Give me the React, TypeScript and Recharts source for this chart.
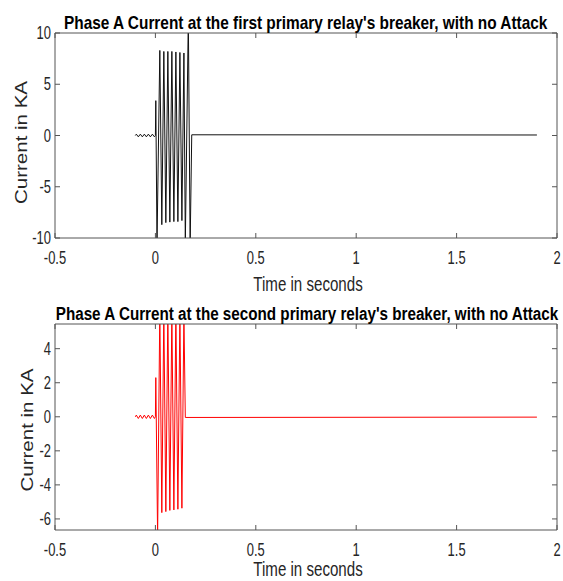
import React from "react";
import { LineChart, Line, XAxis, YAxis } from "recharts";

// shared tick values
const timeTicks = [-0.5, 0, 0.5, 1, 1.5, 2];
const relay1Ticks = [-10, -5, 0, 5, 10];
const relay2Ticks = [-6, -4, -2, 0, 2, 4];

// first primary relay, phase A current (kA)
const relay1Time = [
  -0.1, -0.095, -0.085, -0.075, -0.065, -0.055, -0.045, -0.035, -0.025, -0.015, -0.005, 0,
  0.002, 0.008, 0.022, 0.032, 0.042, 0.052, 0.062, 0.072, 0.082, 0.092, 0.102, 0.112,
  0.122, 0.132, 0.142, 0.149, 0.164, 0.173, 0.181, 1.9,
];
const relay1Current = [
  0, 0.13, -0.13, 0.13, -0.13, 0.13, -0.13, 0.13, -0.13, 0.13, -0.13, 0,
  3.4, -10.6, 8.3, -8.7, 8.2, -8.5, 8.2, -8.45, 8.2, -8.4, 8.15, -8.4,
  8.1, -8.3, 8.05, -10.4, 11.5, -10.8, 0.07, 0.05,
];

// second primary relay
const relay2Time = [
  -0.1, -0.095, -0.085, -0.075, -0.065, -0.055, -0.045, -0.035, -0.025, -0.015, -0.005, 0,
  0.002, 0.011, 0.022, 0.032, 0.042, 0.052, 0.062, 0.072, 0.082, 0.092, 0.102, 0.112,
  0.122, 0.132, 0.142, 0.149, 1.9,
];
const relay2Current = [
  0, 0.1, -0.1, 0.1, -0.1, 0.1, -0.1, 0.1, -0.1, 0.1, -0.1, 0,
  2.3, -7.0, 6.3, -5.63, 6.2, -5.57, 6.2, -5.5, 6.1, -5.47, 6.1, -5.43,
  6.0, -5.37, 6.0, -0.04, -0.02,
];

const relay1Data = relay1Time.map((t, i) => ({ t, i: relay1Current[i] }));
const relay2Data = relay2Time.map((t, i) => ({ t, i: relay2Current[i] }));

const FONT = "'Liberation Sans', Arial, Helvetica, sans-serif";
const SQUEEZE = 0.72; // the original figure is squashed horizontally
const BOX = "#555";

const XTick = (props: any) => {
  const { x, y, payload } = props;
  return (
    <g transform={`translate(${x},${y})`}>
      <text
        transform={`scale(${SQUEEZE},1)`}
        textAnchor="middle"
        dy={14}
        fontSize={18}
        fontFamily={FONT}
        fill="#262626"
      >
        {payload.value}
      </text>
    </g>
  );
};

const YTick = (props: any) => {
  const { x, y, payload } = props;
  return (
    <g transform={`translate(${x},${y})`}>
      <text
        transform={`scale(${SQUEEZE},1)`}
        textAnchor="end"
        dy={6}
        fontSize={18}
        fontFamily={FONT}
        fill="#262626"
      >
        {payload.value}
      </text>
    </g>
  );
};

const NoTick = () => <g />;

interface PanelProps {
  data: { t: number; i: number }[];
  yDomain: [number, number];
  yTicks: number[];
  color: string;
  top: number;
  height: number;
  marginTop: number;
}

const Panel: React.FC<PanelProps> = ({ data, yDomain, yTicks, color, top, height, marginTop }) => (
  <div style={{ position: "absolute", left: 0, top, width: 563, height }}>
    <LineChart
      width={563}
      height={height}
      data={data}
      margin={{ top: marginTop - 1, right: 5, left: 0, bottom: 0 }}
    >
      <XAxis
        dataKey="t"
        type="number"
        domain={[-0.5, 2]}
        ticks={timeTicks}
        interval={0}
        allowDataOverflow
        height={30}
        tickSize={-5}
        tickMargin={17}
        stroke={BOX}
        tick={(p: any) => <XTick {...p} />}
      />
      {/* mirrored axes close the box, ticks pointing inwards like the original */}
      <XAxis
        xAxisId="top"
        dataKey="t"
        orientation="top"
        type="number"
        domain={[-0.5, 2]}
        ticks={timeTicks}
        interval={0}
        allowDataOverflow
        height={1}
        tickSize={-5}
        stroke={BOX}
        tick={NoTick}
      />
      <YAxis
        type="number"
        domain={yDomain}
        ticks={yTicks}
        interval={0}
        allowDataOverflow
        width={55}
        tickSize={-5}
        tickMargin={9}
        stroke={BOX}
        tick={(p: any) => <YTick {...p} />}
      />
      <YAxis
        yAxisId="right"
        orientation="right"
        type="number"
        domain={yDomain}
        ticks={yTicks}
        interval={0}
        allowDataOverflow
        width={1}
        tickSize={-5}
        stroke={BOX}
        tick={NoTick}
      />
      <Line
        type="linear"
        dataKey="i"
        stroke={color}
        strokeWidth={1}
        dot={false}
        isAnimationActive={false}
      />
    </LineChart>
  </div>
);

export default function App() {
  return (
    <div
      style={{
        position: "absolute",
        left: 0,
        top: 0,
        width: 563,
        height: 581,
        background: "#fff",
        overflow: "hidden",
      }}
    >
      <Panel
        data={relay1Data}
        yDomain={[-10, 10]}
        yTicks={relay1Ticks}
        color="#111"
        top={0}
        height={268}
        marginTop={33}
      />
      <Panel
        data={relay2Data}
        yDomain={[-6.65, 5.45]}
        yTicks={relay2Ticks}
        color="#ff0000"
        top={290}
        height={270}
        marginTop={34}
      />
      <svg
        width={563}
        height={581}
        style={{ position: "absolute", left: 0, top: 0, pointerEvents: "none" }}
        fontFamily={FONT}
      >
        <text transform="translate(305.7,28.7) scale(0.88,1)" textAnchor="middle"
          fontSize={17.5} fontWeight="bold" fill="#000">
          Phase A Current at the first primary relay's breaker, with no Attack
        </text>
        <text transform="translate(307,319.8) scale(0.87,1)" textAnchor="middle"
          fontSize={17.5} fontWeight="bold" fill="#000">
          Phase A Current at the second primary relay's breaker, with no Attack
        </text>
        <text transform="translate(308,291) scale(0.755,1)" textAnchor="middle"
          fontSize={20} fill="#262626">
          Time in seconds
        </text>
        <text transform="translate(308,576) scale(0.755,1)" textAnchor="middle"
          fontSize={20} fill="#262626">
          Time in seconds
        </text>
        <text transform="translate(27,142.5) rotate(-90) scale(1,0.8)" textAnchor="middle"
          fontSize={20.5} fill="#262626">
          Current in KA
        </text>
        <text transform="translate(32.5,430) rotate(-90) scale(1,0.8)" textAnchor="middle"
          fontSize={20.5} fill="#262626">
          Current in KA
        </text>
      </svg>
    </div>
  );
}
